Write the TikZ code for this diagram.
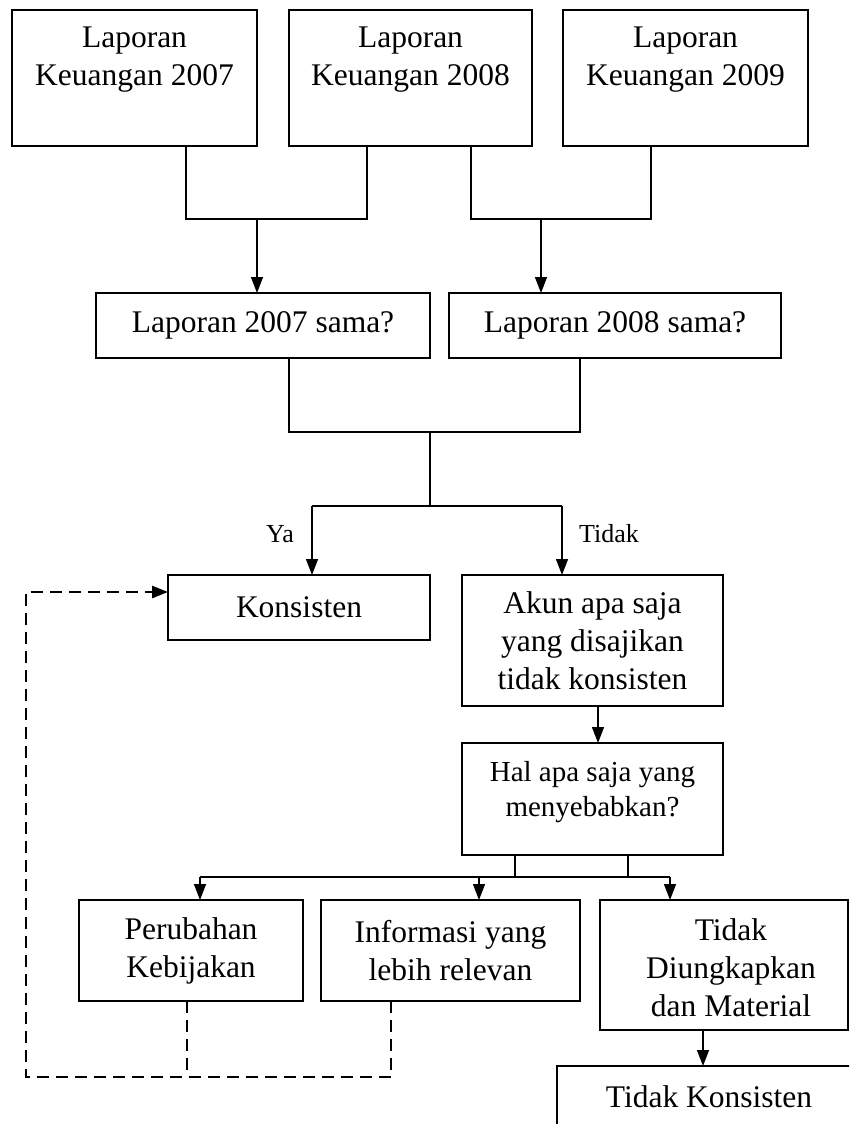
\documentclass[tikz,border=0pt]{standalone}
\usepackage{fontspec}
\setmainfont{Liberation Serif}
\usetikzlibrary{arrows.meta}
\begin{document}
\begin{tikzpicture}[x=1pt,y=-1pt,
  box/.style={draw, line width=1.5pt, inner sep=0pt, outer sep=0pt, anchor=north west,
    align=center, font=\fontsize{31.5}{38}\selectfont},
  txt/.style={align=center, inner sep=0pt, font=\fontsize{31.5}{38}\selectfont},
  ln/.style={line width=1.4pt},
  tip/.style={-{Triangle[length=16pt,width=12pt]}},
  arr/.style={line width=1.4pt, tip},
  dsh/.style={line width=2.8pt, dash pattern=on 12pt off 7pt},
  lbl/.style={inner sep=0pt, anchor=base, font=\fontsize{26}{30}\selectfont}
]
\useasboundingbox (0,0) rectangle (849,1124);
\clip (0,0) rectangle (849,1124);

% row 1
\node[box, minimum width=245pt, minimum height=136pt] (b1) at (12,10) {};
\node[box, minimum width=243pt, minimum height=136pt] (b2) at (289,10) {};
\node[box, minimum width=245pt, minimum height=136pt] (b3) at (563,10) {};
\node[txt] (t1) at (134.5,60) {Laporan\\Keuangan 2007};
\node[txt] (t2) at (410.5,60) {Laporan\\Keuangan 2008};
\node[txt] (t3) at (685.5,60) {Laporan\\Keuangan 2009};

% row 2
\node[box, minimum width=334pt, minimum height=65pt] (s1) at (96,293) {Laporan 2007 sama?};
\node[box, minimum width=332pt, minimum height=65pt] (s2) at (449,293) {Laporan 2008 sama?};

\coordinate (c1) at (186,219); \coordinate (c2) at (367,219); \coordinate (a1) at (257,219);
\coordinate (c3) at (471,219); \coordinate (c4) at (651,219); \coordinate (a2) at (541,219);
\draw[ln] (c1 |- b1.south) -- (c1) -- (c2) -- (c2 |- b2.south);
\draw[arr] (a1) -- (a1 |- s1.north);
\draw[ln] (c3 |- b2.south) -- (c3) -- (c4) -- (c4 |- b3.south);
\draw[arr] (a2) -- (a2 |- s2.north);

% row 3
\node[box, minimum width=262pt, minimum height=65pt] (k) at (168,575) {Konsisten};
\node[box, minimum width=261pt, minimum height=131pt] (ak) at (462,575) {Akun apa saja\\yang disajikan\\tidak konsisten};

\coordinate (d1) at (289,432); \coordinate (d2) at (580,432); \coordinate (d3) at (430,432);
\coordinate (e0) at (430,506); \coordinate (e1) at (312,506); \coordinate (e2) at (562,506);
\draw[ln] (d1 |- s1.south) -- (d1) -- (d2) -- (d2 |- s2.south);
\draw[ln] (d3) -- (e0);
\draw[ln] (e1) -- (e2);
\draw[arr] (e1) -- (e1 |- k.north);
\draw[arr] (e2) -- (e2 |- ak.north);
\node[lbl] (ya) at (280,542) {Ya};
\node[lbl] (tidak) at (609,542) {Tidak};

% Hal
\node[box, minimum width=261pt, minimum height=112pt] (h) at (462,743) {};
\node[txt, font=\fontsize{29}{35}\selectfont] (ht) at (592.5,792) {Hal apa saja yang\\menyebabkan?};
\coordinate (g1) at (598,720);
\draw[arr] (g1 |- ak.south) -- (g1 |- h.north);

% row 5
\node[box, minimum width=224pt, minimum height=101pt] (p) at (79,900) {Perubahan\\Kebijakan};
\node[box, minimum width=259pt, minimum height=101pt] (i) at (321,900) {Informasi yang\\lebih relevan};
\node[box, minimum width=248pt, minimum height=130pt] (td) at (600,900) {};
\node[txt] (tdt) at (731,967.5) {Tidak\\Diungkapkan\\dan Material};

\coordinate (h1) at (515,877); \coordinate (h2) at (628,877);
\coordinate (q1) at (200,877); \coordinate (q2) at (479,877); \coordinate (q3) at (670,877);
\draw[ln] (h1 |- h.south) -- (h1);
\draw[ln] (h2 |- h.south) -- (h2);
\draw[ln] (q1) -- (q3);
\draw[arr] (q1) -- (q1 |- p.north);
\draw[arr] (q2) -- (q2 |- i.north);
\draw[arr] (q3) -- (q3 |- td.north);

% Tidak Konsisten
\node[box, minimum width=320pt, minimum height=90pt] (tk) at (557,1066) {};
\node[txt, anchor=base] (tkt) at (709,1107) {Tidak Konsisten};
\coordinate (r1) at (703,1040);
\draw[arr] (r1 |- td.south) -- (r1 |- tk.north);

% dashed feedback
\coordinate (f1) at (187,1077); \coordinate (f2) at (391,1077);
\coordinate (f0) at (26,1077); \coordinate (g0) at (26,592);
\draw[dsh] (f1 |- p.south) -- (f1);
\draw[dsh, tip] (f2 |- i.south) -- (f2) -- (f0) -- (g0) -- (g0 -| k.west);
\end{tikzpicture}
\end{document}
